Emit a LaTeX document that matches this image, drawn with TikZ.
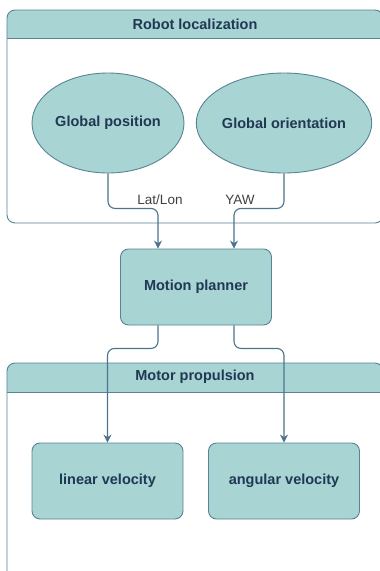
\documentclass[tikz,border=0pt]{standalone}
\usepackage{fontspec}
\setmainfont{Liberation Sans}
\usetikzlibrary{arrows.meta,shapes.geometric}
\definecolor{tealfill}{RGB}{168,212,212}
\definecolor{tealline}{RGB}{88,132,148}
\definecolor{navytext}{RGB}{32,56,82}
\definecolor{arrowcol}{RGB}{76,116,140}

\begin{document}
\begin{tikzpicture}[x=1pt,y=-1pt,
	block/.style={draw=tealline,fill=tealfill,rounded corners=8pt,line width=0.9pt,minimum width=151pt,minimum height=76pt,text=navytext,font=\bfseries\fontsize{14.5}{17}\selectfont},
	blob/.style={ellipse,draw=tealline,fill=tealfill,line width=0.9pt,minimum width=152pt,minimum height=100pt,inner sep=0pt,text=navytext,font=\bfseries\fontsize{14.5}{17}\selectfont},
	lane/.style={draw=tealline,line width=0.9pt,rounded corners=8pt},
	head/.style={text=navytext,font=\bfseries\fontsize{14.5}{17}\selectfont},
	link/.style={draw=arrowcol,line width=1.1pt,rounded corners=7pt,-{Stealth[length=8pt,width=8pt]}},
	tag/.style={text=black!75,font=\fontsize{13.5}{16}\selectfont}]
		\useasboundingbox (0,0) rectangle (380,571);
		\clip (0,0) rectangle (380,571);
		\fill[white] (0,0) rectangle (380,571);
		
		\begin{scope}
			\clip (0,0) rectangle (400,38);
			\fill[tealfill,rounded corners=8pt] (7,10) rectangle (383,223);
		\end{scope}
		\draw[lane] (7,10) rectangle (383,223);
		\draw[tealline,line width=0.9pt] (7,38)--(383,38);
		\node[head] (loc) at (195,24) {Robot localization};
		
		\begin{scope}
			\clip (0,0) rectangle (400,392);
			\fill[tealfill,rounded corners=8pt] (7,363) rectangle (383,610);
		\end{scope}
		\draw[lane] (7,363) rectangle (383,610);
		\draw[tealline,line width=0.9pt] (7,392)--(383,392);
		\node[head] (prop) at (195,377) {Motor propulsion};
		
		\node[blob] (gpos) at (108,123) {Global position};
		\node[blob] (gori) at (284,123) {Global orientation};
		\node[block] (mp) at (196,287) {Motion planner};
		\node[block] (linv) at (107.5,481) {linear velocity};
		\node[block] (angv) at (284,481) {angular velocity};
		
		\draw[link] (gpos.south) -- ++(0,35) -| ([xshift=-38pt]mp.north);
		\draw[link] (gori.south) -- ++(0,35) -| ([xshift=38pt]mp.north);
		\draw[link] ([xshift=-38pt]mp.south) -- ++(0,23) -| (linv.north);
		\draw[link] ([xshift=38pt]mp.south) -- ++(0,23) -| (angv.north);
		
		\node[tag] (latlon) at (160,200) {Lat/Lon};
		\node[tag] (yaw) at (240,200) {YAW};
	\end{tikzpicture}
\end{document}
